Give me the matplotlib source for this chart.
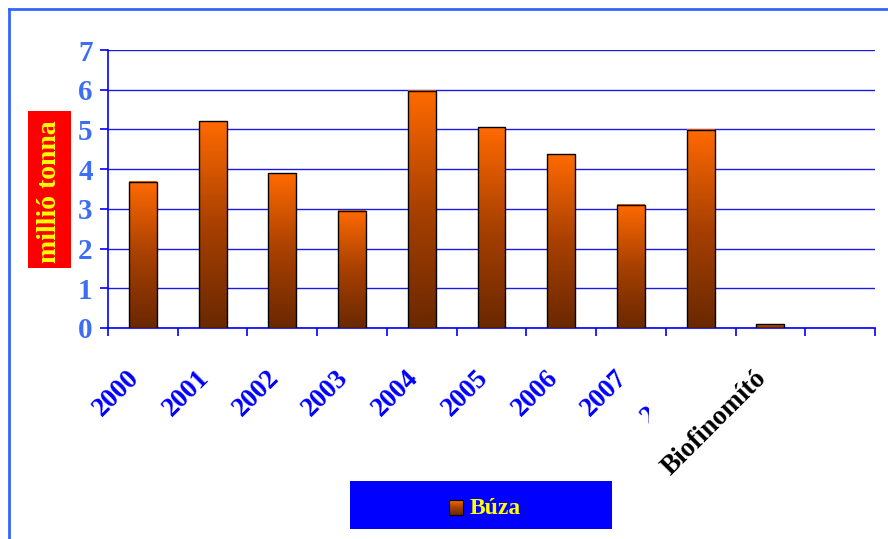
import numpy as np
import matplotlib.pyplot as plt
from matplotlib.colors import LinearSegmentedColormap
from matplotlib.patches import Rectangle
from matplotlib.lines import Line2D
from matplotlib.transforms import Bbox, TransformedBbox, ScaledTranslation

categories = ['2000', '2001', '2002', '2003', '2004', '2005', '2006', '2007', '2008', 'Biofinomító', '']
buza = [3.68, 5.21, 3.90, 2.95, 5.97, 5.06, 4.38, 3.10, 4.99, 0.10]
yticks = [0, 1, 2, 3, 4, 5, 6, 7]

plt.rcParams['font.family'] = ['Liberation Serif', 'DejaVu Serif']
plt.rcParams['font.weight'] = 'bold'

blue = '#0000ff'
ytick_blue = '#3d6df2'
grad = LinearSegmentedColormap.from_list('buza', ['#6a2800', '#a84000', '#ff6a00'])

fig = plt.figure(figsize=(8.88, 5.39), dpi=100)
ax = fig.add_axes([108 / 888, 211 / 539, 767 / 888, 278 / 539])

n = len(categories)
x = np.arange(n)
width = 0.4
g = np.linspace(0, 1, 256).reshape(-1, 1)
for xi, v in zip(x, buza):
    ax.imshow(g, extent=[xi - width / 2, xi + width / 2, 0, v], origin='lower',
              aspect='auto', cmap=grad, zorder=3)
    ax.bar(xi, v, width=width, facecolor='none', edgecolor='black', linewidth=1, zorder=4)

ax.set_xlim(-0.5, n - 0.5)
ax.set_ylim(0, 7)
ax.set_yticks(yticks)
ax.set_yticklabels([str(t) for t in yticks])
ax.yaxis.grid(True, color='#1a1ae6', linewidth=1)
ax.set_axisbelow(True)
for s in ['top', 'right']:
    ax.spines[s].set_visible(False)
for s in ['left', 'bottom']:
    ax.spines[s].set_color(blue)
    ax.spines[s].set_linewidth(1.2)

ax.tick_params(axis='y', colors=blue, labelcolor=ytick_blue, labelsize=21, length=6, width=1.2, pad=5)
ax.set_xticks(x)
ax.set_xticklabels(categories)
ax.set_xticks(np.arange(n + 1) - 0.5, minor=True)
ax.tick_params(axis='x', which='major', length=0, pad=27, labelsize=19.5, labelcolor=blue)
ax.tick_params(axis='x', which='minor', length=6, width=1.2, colors=blue)
off = ScaledTranslation(-16 / 100, 0, fig.dpi_scale_trans)
off_2008 = ScaledTranslation(-26 / 100, -8 / 100, fig.dpi_scale_trans)
for lab in ax.get_xticklabels():
    lab.set_rotation(45)
    lab.set_ha('right')
    lab.set_va('top')
    lab.set_rotation_mode('anchor')
    if lab.get_text() == '2008':
        # partly hidden in the original
        lab.set_transform(lab.get_transform() + off_2008)
        lab.set_clip_box(TransformedBbox(Bbox([[0, 0], [649 / 888, 1]]), fig.transFigure))
        lab.set_clip_on(True)
    else:
        lab.set_transform(lab.get_transform() + off)
    if lab.get_text() == 'Biofinomító':
        lab.set_color('black')

# y label in red box
fig.patches.append(Rectangle((28 / 888, 1 - 268 / 539), 43 / 888, 157 / 539,
                             transform=fig.transFigure, facecolor='#ff0000', edgecolor='none'))
fig.text(50 / 888, 1 - 192 / 539, 'millió tonna', rotation=90, ha='center', va='center',
         color='#ffff00', fontsize=20, fontweight='bold')

# outer frame (left and top visible)
fig.lines.append(Line2D([9 / 888, 9 / 888], [0, 1 - 9 / 539], transform=fig.transFigure,
                        color='#3366ff', linewidth=2))
fig.lines.append(Line2D([9 / 888, 1], [1 - 9 / 539, 1 - 9 / 539], transform=fig.transFigure,
                        color='#3366ff', linewidth=2))

# legend box
fig.patches.append(Rectangle((350 / 888, 1 - 529 / 539), 262 / 888, 48 / 539,
                             transform=fig.transFigure, facecolor='#0000ff', edgecolor='none'))
lax = fig.add_axes([449 / 888, 1 - 515 / 539, 14 / 888, 15 / 539])
lax.set_zorder(5)
lax.imshow(g, origin='lower', aspect='auto', cmap=grad)
lax.set_xticks([])
lax.set_yticks([])
for s in lax.spines.values():
    s.set_color('black')
fig.text(470 / 888, 1 - 508 / 539, 'Búza', ha='left', va='center', color='#ffff00',
         fontsize=17, fontweight='bold')

fig.savefig('out.png', dpi=100)
